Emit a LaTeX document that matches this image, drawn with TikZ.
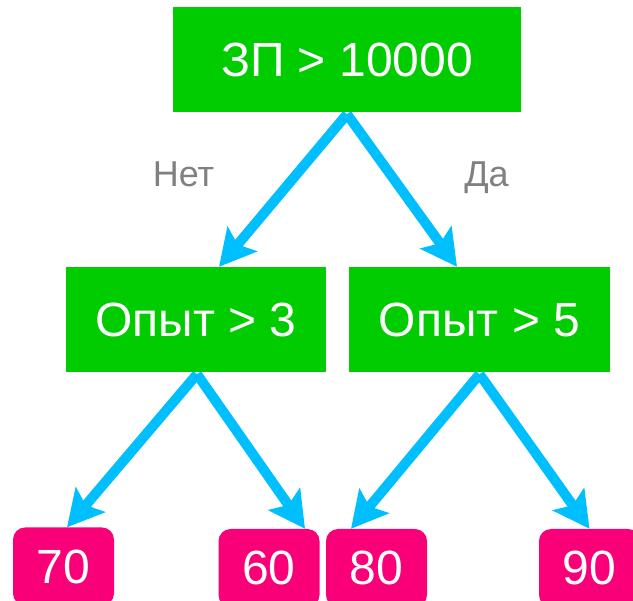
\documentclass[tikz,border=0pt]{standalone}
\usepackage{fontspec}
\setmainfont{Liberation Sans}
\usetikzlibrary{arrows.meta,backgrounds}
\definecolor{boxgreen}{RGB}{0,204,0}
\definecolor{arrowblue}{RGB}{0,191,255}
\definecolor{leafpink}{RGB}{250,0,120}
\definecolor{labelgray}{RGB}{128,128,128}
\tikzset{
  decision/.style={rectangle, fill=boxgreen, text=white, inner sep=0pt,
    minimum height=105pt, font=\fontsize{48}{56}\selectfont},
  leaf/.style={rectangle, rounded corners=12pt, fill=leafpink, text=white, inner sep=0pt,
    minimum width=101pt, minimum height=78pt, font=\fontsize{48}{56}\selectfont},
  branch/.style={draw=arrowblue, line width=10pt,
    -{Stealth[length=36pt, width=38pt, inset=7pt, fill=arrowblue]}},
  edgelabel/.style={text=labelgray, anchor=base, inner sep=0pt, font=\fontsize{36}{42}\selectfont}
}
\begin{document}
\begin{tikzpicture}[x=1pt, y=-1pt]
\useasboundingbox (0,0) rectangle (633,601);
\node[decision, minimum width=348pt] (top) at (347,59.5) {ЗП > 10000};
\node[decision, minimum width=260pt] (ml) at (196,319.5) {Опыт > 3};
\node[decision, minimum width=261pt] (mr) at (479.5,319.5) {Опыт > 5};
\node[leaf] (l70) at (63.5,566.5) {70};
\node[leaf] (l60) at (269,568) {60};
\node[leaf] (l80) at (376.5,568) {80};
\node[leaf] (l90) at (589.5,568) {90};
\node[edgelabel] (no) at (183.5,187) {Нет};
\node[edgelabel] (yes) at (486.5,187) {Да};
\begin{scope}[on background layer]
\draw[branch] ([yshift=-2pt]top.south) -- ([xshift=23pt]ml.north);
\draw[branch] ([yshift=-2pt]top.south) -- ([xshift=-22.5pt]mr.north);
\draw[branch] ([xshift=1pt,yshift=-2pt]ml.south) -- ([xshift=3.5pt]l70.north);
\draw[branch] ([xshift=1pt,yshift=-2pt]ml.south) -- ([xshift=36pt]l60.north);
\draw[branch] ([yshift=-2pt]mr.south) -- ([xshift=-25.5pt]l80.north);
\draw[branch] ([yshift=-2pt]mr.south) -- ([xshift=0pt]l90.north);
\end{scope}
\end{tikzpicture}
\end{document}
